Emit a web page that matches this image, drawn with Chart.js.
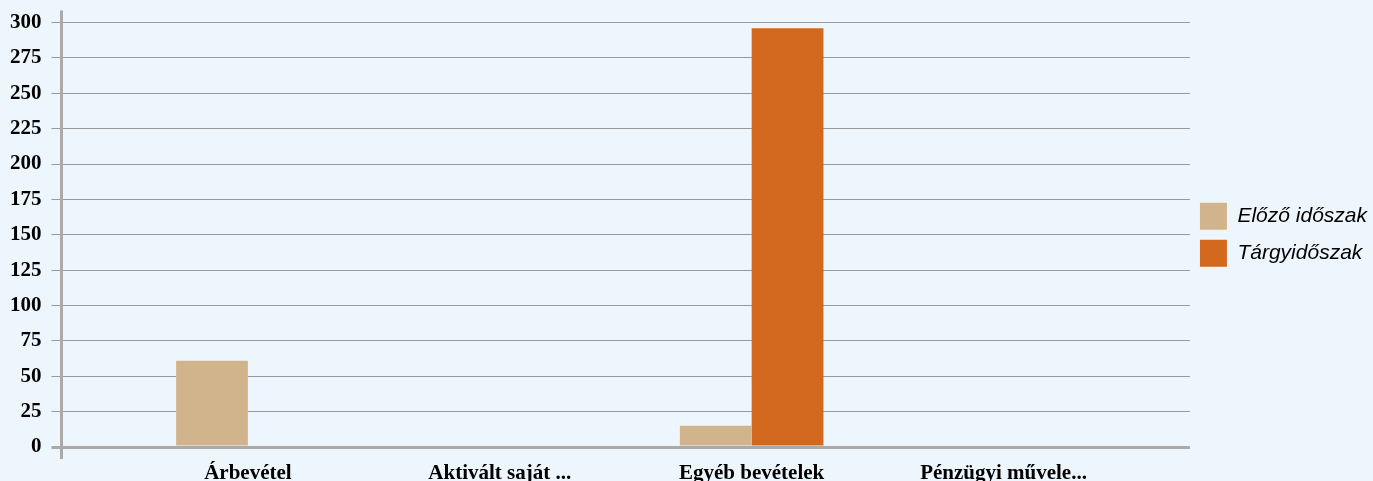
<!DOCTYPE html>
<html>
<head>
<meta charset="utf-8">
<script src="https://cdn.jsdelivr.net/npm/chart.js@4.4.1/dist/chart.umd.min.js"></script>
<style>
  html, body { margin: 0; padding: 0; background: #eef6fd; }
  #wrap { width: 1373px; height: 481px; }
</style>
</head>
<body>
<div id="wrap"><canvas id="bevetelChart"></canvas></div>
<script>
const kategoriak = ["Árbevétel", "Aktivált saját ...", "Egyéb bevételek", "Pénzügyi művele..."];
const elozoIdoszak = [61, 0, 15, 0];
const targyIdoszak = [0, 0, 296, 0];
const yTicks = [0, 25, 50, 75, 100, 125, 150, 175, 200, 225, 250, 275, 300];

// tengelyvonal a rajzterület szélein túl is
const tengelyVonal = {
  id: "tengelyVonal",
  afterDraw(chart) {
    const { ctx, chartArea } = chart;
    ctx.save();
    ctx.strokeStyle = "#aaaaaa";
    ctx.lineWidth = 3;
    ctx.beginPath();
    ctx.moveTo(chartArea.left, chartArea.top - 12);
    ctx.lineTo(chartArea.left, chartArea.bottom + 12);
    ctx.stroke();
    ctx.restore();
  },
};

const ctx = document.getElementById("bevetelChart").getContext("2d");

new Chart(ctx, {
  type: "bar",
  data: {
    labels: kategoriak,
    datasets: [
      {
        label: "Előző időszak",
        data: elozoIdoszak,
        backgroundColor: "#d2b48c",
        borderWidth: 0,
      },
      {
        label: "Tárgyidőszak",
        data: targyIdoszak,
        backgroundColor: "#d2691e",
        borderWidth: 0,
      },
    ],
  },
  options: {
    responsive: true,
    maintainAspectRatio: false,
    animation: false,
    layout: { padding: { left: 0, top: 11, right: -4, bottom: -19 } },
    datasets: {
      bar: { categoryPercentage: 0.57, barPercentage: 1 },
    },
    scales: {
      x: {
        grid: { display: false, drawTicks: false },
        border: { display: false },
        afterBuildTicks: function (scale) {
          // szélesebb üres sáv a két szélen
          scale._startValue = -0.74;
          scale._valueRange = 4.48;
        },
        ticks: {
          color: "#000",
          padding: 16,
          maxRotation: 0,
          font: { family: "Liberation Serif", weight: "bold", size: 21, lineHeight: 1 },
        },
      },
      y: {
        min: 0,
        max: 300,
        afterBuildTicks: function (scale) {
          scale.ticks = yTicks.map((v) => ({ value: v }));
        },
        border: { display: false },
        grid: {
          color: function (c) {
            return c.tick && c.tick.value === 0 ? "#aaaaaa" : "#999999";
          },
          lineWidth: function (c) {
            return c.tick && c.tick.value === 0 ? 3 : 1;
          },
          tickLength: 10,
        },
        ticks: {
          color: "#000",
          padding: 10,
          font: { family: "Liberation Serif", weight: "bold", size: 21 },
        },
      },
    },
    plugins: {
      legend: {
        position: "right",
        fullSize: false,
        labels: {
          boxWidth: 27,
          boxHeight: 27,
          padding: 10,
          color: "#000",
          font: { family: "Liberation Sans", style: "italic", size: 21 },
        },
      },
      tooltip: { enabled: false },
    },
  },
  plugins: [tengelyVonal],
});
</script>
</body>
</html>
